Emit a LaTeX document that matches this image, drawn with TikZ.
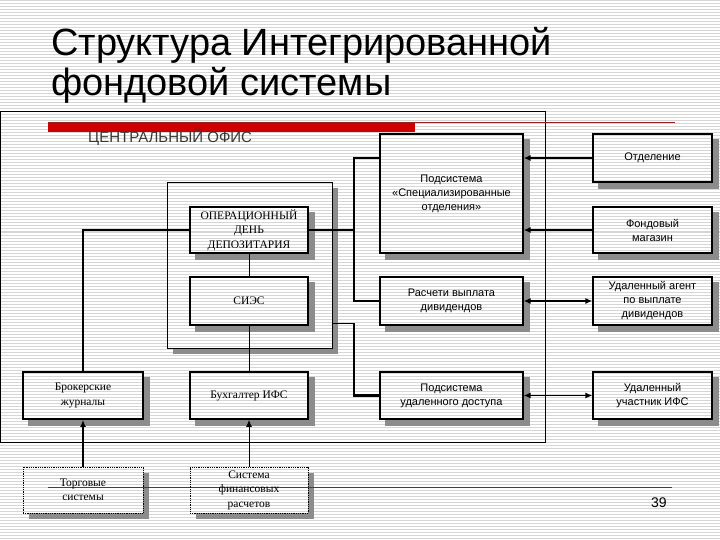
\documentclass[tikz,border=0pt]{standalone}
\usepackage{fontspec}
\setmainfont{Liberation Serif}
\setsansfont{Liberation Sans}
\usetikzlibrary{arrows.meta,backgrounds}

\definecolor{slidered}{RGB}{204,0,0}
\definecolor{linered}{RGB}{150,30,30}

\tikzset{
  box/.style={draw, line width=1.1pt, inner sep=0pt, align=center,
    font=\sffamily\fontsize{11}{14}\selectfont},
  sbox/.style={draw, line width=1.8pt, inner sep=0pt, align=center,
    font=\fontsize{11.5}{14.5}\selectfont},
  dotbox/.style={sbox, line width=0.8pt, densely dotted},
  thin/.style={line width=0.8pt},
  thick line/.style={line width=2.2pt},
  arr/.style={line width=1.8pt, -{Latex[length=7pt,width=6pt]}},
  biarr/.style={line width=1.8pt, {Latex[length=7pt,width=6pt]}-{Latex[length=7pt,width=6pt]}},
  stripe/.style={black!16, line width=1pt},
  shade/.style={fill=black!45}
}

\begin{document}
\begin{tikzpicture}[x=1pt,y=-1pt]
\useasboundingbox (0,0) rectangle (720,540);

% title
\node[anchor=north west, inner sep=0pt, align=left,
  font=\sffamily\fontsize{38}{40}\selectfont] (title) at (51,27)
  {Структура Интегрированной\\фондовой системы};

% frame, red lines
\draw[thin] (0,111) rectangle (545,442);
\fill[slidered] (48,122) rectangle (415,132);
\draw[linered, line width=0.8pt] (48,122.5) -- (675,122.5);
\draw[linered, line width=0.8pt] (48,487) -- (672,487);
\node[anchor=base west, inner sep=0pt, text=black!78,
  font=\sffamily\fontsize{15}{18}\selectfont] (office) at (88,143) {ЦЕНТРАЛЬНЫЙ ОФИС};

% left part
\node[draw, thin, minimum width=165pt, minimum height=166pt] (cont) at (249.5,265) {};
\node[sbox, minimum width=118pt, minimum height=46pt] (odd) at (249,230)
  {ОПЕРАЦИОННЫЙ\\ДЕНЬ\\ДЕПОЗИТАРИЯ};
\node[sbox, minimum width=118pt, minimum height=48pt] (sies) at (249,301) {СИЭС};
\node[sbox, minimum width=120pt, minimum height=47pt] (brok) at (83,395.5)
  {Брокерские\\журналы};
\node[sbox, minimum width=118pt, minimum height=47pt] (buh) at (249,395.5)
  {Бухгалтер ИФС};
\node[dotbox, minimum width=120pt, minimum height=46pt] (torg) at (83,490)
  {Торговые\\системы};
\node[dotbox, minimum width=118pt, minimum height=46pt] (sfr) at (249,490)
  {Система\\финансовых\\расчетов};

% middle column
\node[box, minimum width=143pt, minimum height=119pt] (spec) at (451.5,193.5)
  {Подсистема\\«Специализированные\\отделения»};
\node[box, minimum width=143pt, minimum height=48pt] (rasch) at (451.5,301)
  {Расчети выплата\\дивидендов};
\node[box, minimum width=143pt, minimum height=47pt] (udost) at (451.5,395.5)
  {Подсистема\\удаленного доступа};

% right column
\node[box, minimum width=119pt, minimum height=48pt] (otd) at (652.5,158) {Отделение};
\node[box, minimum width=119pt, minimum height=46pt] (fond) at (652.5,230)
  {Фондовый\\магазин};
\node[box, minimum width=119pt, minimum height=48pt] (agent) at (652.5,301)
  {Удаленный агент\\по выплате\\дивидендов};
\node[box, minimum width=119pt, minimum height=47pt] (uchast) at (652.5,395.5)
  {Удаленный\\участник ИФС};

\node[anchor=base west, inner sep=0pt, font=\sffamily\fontsize{14}{16}\selectfont]
  (page) at (651,507) {39};

% connectors
\coordinate (jA) at (354,230);
\coordinate (jB) at (354,323);
\draw[thick line] (odd.west) -| (brok.north);
\draw[thick line] (odd.east) -- (jA);
\draw[thick line] (spec.west |- otd.west) -| (jA) |- (rasch.west);
\draw[thin] (cont.east |- jB) -- (jB);
\draw[thick line] (jB) |- (udost.west);
\draw[thin] (odd.south) -- (sies.north);
\draw[thin] (sies.south) -- (buh.north);
\draw[arr] (torg.north) -- (brok.south);
\draw[thin, -{Latex[length=7pt,width=6pt]}] (sfr.north) -- (buh.south);
\draw[arr] (otd.west) -- (spec.east |- otd.west);
\draw[arr] (fond.west) -- (spec.east |- fond.west);
\draw[biarr] (rasch.east) -- (agent.west);
\draw[biarr] (udost.east) -- (uchast.west);

% slide background and shadows
\begin{scope}[on background layer]
\fill[white] (0,0) rectangle (720,540);
\foreach \y in {1,4,...,538}
  \draw[stripe] (0,\y) -- (720,\y);
\foreach \n in {cont,odd,sies,brok,buh,torg,sfr,spec,rasch,udost,otd,fond,agent,uchast}{
  \fill[shade] ([yshift=-6pt]\n.north east) rectangle ([shift={(6pt,-6pt)}]\n.south east);
  \fill[shade] ([xshift=6pt]\n.south west) rectangle ([shift={(6pt,-6pt)}]\n.south east);
}
\end{scope}
\end{tikzpicture}
\end{document}
